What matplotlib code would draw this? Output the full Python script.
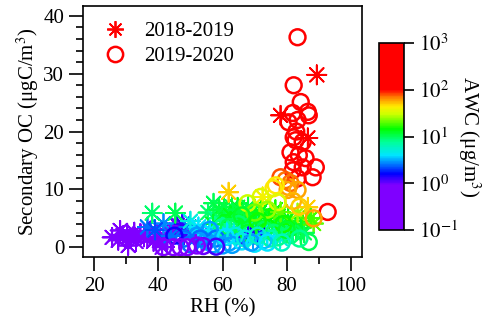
import numpy as np
import matplotlib
matplotlib.use('Agg')
import matplotlib.pyplot as plt
from matplotlib.colors import LinearSegmentedColormap, LogNorm
from matplotlib.lines import Line2D
from matplotlib.ticker import MultipleLocator, FixedLocator

plt.rcParams['font.family'] = ['Liberation Serif', 'DejaVu Serif']
plt.rcParams['mathtext.fontset'] = 'stix'
plt.rcParams['font.size'] = 15

# 2018-2019 (stars): RH (%), secondary OC (ugC/m3), AWC (ug/m3)
rh1 = [25.6, 27.5, 28.1, 29.0, 30.3, 30.6, 31.5, 32.5, 33.0, 34.4, 35.5, 36.6, 37.5, 38.5,
       39.7, 40.5, 41.2, 42.8, 43.5,
       45.9, 46.9, 44.5, 48.0, 47.5,
       36.6, 41.6, 39.0, 44.0, 49.5, 50.5,
       38.1, 45.3,
       51.6, 53.1, 53.5, 55.0,
       55.5, 57.2, 58.0, 59.0, 60.0, 61.0, 62.0, 63.0, 64.7, 65.5, 66.5, 67.5, 68.5, 70.0,
       71.0, 72.0, 73.5, 75.0, 76.0, 77.5, 79.0, 80.5, 82.0,
       57.0, 59.5, 60.5, 62.5, 63.5, 65.0, 66.0, 68.0, 69.0, 70.5, 71.5, 73.0, 74.5, 76.5,
       78.5, 80.0, 81.5, 83.0, 85.0, 50.0, 52.5, 54.0,
       56.0, 58.5, 61.5, 64.0, 67.0, 69.5, 74.0, 78.0,
       70.9, 68.0,
       61.9, 72.5, 83.4, 86.6, 88.4, 84.4, 85.5, 87.5, 78.1,
       78.1, 89.4, 86.6]
oc1 = [1.7, 1.2, 2.9, 2.0, 2.4, 0.3, 1.5, 2.6, 1.0, 2.4, 1.8, 1.7, 2.8, 1.0,
       2.4, 1.5, 0.0, 1.2, 2.5,
       3.8, 2.9, 3.2, 2.2, 4.0,
       3.5, 4.1, 3.0, 2.0, 3.5, 2.5,
       5.9, 5.9,
       1.6, 2.1, 0.7, 1.5,
       6.0, 7.6, 5.0, 6.5, 4.5, 6.0, 4.0, 7.0, 6.9, 5.0, 3.5, 6.0, 4.5, 5.5,
       3.5, 6.5, 4.5, 5.5, 3.0, 4.5, 3.5, 5.0, 2.5,
       4.0, 3.0, 7.0, 5.5, 3.0, 6.5, 4.5, 7.0, 3.0, 4.5, 6.0, 2.5, 5.0, 6.5,
       4.0, 2.5, 4.0, 3.0, 4.5, 4.5, 3.5, 2.5,
       3.0, 2.0, 2.5, 1.5, 2.0, 1.5, 2.0, 1.5,
       2.1, 1.8,
       9.5, 8.7, 5.9, 6.9, 4.1, 3.3, 2.5, 5.0, 6.1,
       22.8, 29.8, 18.9]
awc1 = [0.2, 0.3, 0.25, 0.2, 0.3, 0.2, 0.25, 0.3, 0.2, 0.3, 0.25, 0.3, 0.35, 0.3,
        0.4, 0.3, 0.3, 0.4, 0.5,
        1.1, 1.0, 0.9, 1.2, 1.3,
        2.5, 2.8, 2.2, 2.5, 2.5, 2.8,
        9, 10,
        0.4, 0.3, 0.4, 0.5,
        9, 10, 8, 11, 9, 12, 8, 10, 13, 10, 7, 12, 9, 11,
        8, 14, 10, 12, 8, 11, 9, 13, 7,
        12, 8, 11, 13, 6, 11, 12, 11, 6, 12, 13, 6, 14, 15,
        12, 9, 15, 10, 16, 5, 4, 3,
        4, 3.5, 4, 3, 3.5, 3, 4, 5,
        1.5, 1.3,
        50, 40, 25, 50, 20, 12, 10, 18, 20,
        300, 400, 250]

# 2019-2020 (circles)
rh2 = [83.4, 82.2, 84.4, 86.6, 81.9, 83.4, 80.6, 86.9, 82.8, 82.2, 83.0, 85.0, 81.2, 83.8,
       85.9, 82.2, 89.1, 85.0, 81.9, 88.1, 83.4, 92.8,
       79.7, 80.6, 78.1, 81.2, 83.4, 80.3, 88.4, 82.0, 84.0,
       76.6, 75.9, 71.9, 67.8, 77.2, 74.0, 70.0,
       86.9, 81.2, 77.2, 73.0, 65.0, 60.0, 68.0, 79.0, 75.0,
       62.0, 66.0, 71.0, 76.0, 80.0, 84.0,
       72.8, 52.0, 55.0, 58.0, 62.0, 66.0, 70.0, 48.0, 50.0, 56.0, 64.0, 60.0,
       53.0, 57.0, 61.0, 63.0, 67.0, 69.0, 71.0, 74.0, 78.5,
       54.0, 58.0, 45.0,
       46.9, 41.6, 49.0, 44.7, 52.0]
oc2 = [36.3, 28.0, 25.1, 23.4, 23.2, 22.0, 21.6, 22.8, 18.5, 19.0, 20.0, 18.2, 16.4, 15.9,
       15.4, 14.7, 13.8, 13.8, 13.3, 12.1, 11.9, 6.1,
       11.6, 10.4, 12.1, 11.1, 9.9, 9.9, 5.0, 8.0, 7.0,
       10.7, 10.2, 8.7, 7.6, 7.8, 6.5, 6.0,
       0.9, 2.1, 1.7, 3.0, 4.0, 3.5, 2.5, 4.0, 1.5,
       3.5, 5.5, 4.5, 2.5, 3.0, 1.5,
       1.2, 2.0, 1.0, 1.5, 0.8, 1.0, 0.6, 1.5, 0.5, 3.0, 2.0, 0.3,
       1.5, 0.5, 1.8, 0.4, 1.5, 0.8, 2.0, 0.8, 0.8,
       0.2, 0.1, 2.0,
       0.0, 0.0, 0.0, 0.0, 0.3]
awc2 = [500, 400, 300, 300, 250, 300, 250, 300, 200, 250, 250, 200, 180, 200,
        180, 160, 200, 170, 150, 180, 140, 200,
        70, 60, 80, 70, 60, 60, 60, 55, 50,
        45, 45, 35, 30, 35, 25, 22,
        10, 9, 8, 10, 9, 8, 12, 15, 7,
        10, 12, 15, 9, 12, 8,
        3.5, 3, 3, 2.5, 3, 4, 4, 2.5, 2.5, 3, 5, 3,
        2.5, 3, 4, 3, 5, 3, 6, 4, 6,
        1.0, 1.2, 1.5,
        0.3, 0.3, 0.4, 0.3, 0.3]

# rainbow colour scale on log10(AWC), purple below 1, red above 100
stops = [(0.00, '#7f00ff'), (0.24, '#7f00ff'), (0.30, '#0000ff'), (0.40, '#00e5ff'),
         (0.47, '#00ff99'), (0.54, '#00ff00'), (0.62, '#ccff00'), (0.66, '#ffee00'),
         (0.71, '#ff8000'), (0.75, '#ff0000'), (1.00, '#ff0000')]
cmap = LinearSegmentedColormap.from_list('awc', stops)
norm = LogNorm(vmin=0.1, vmax=1000)

fig = plt.figure(figsize=(5, 3.33), dpi=100)
ax = fig.add_axes([0.166, 0.228, 0.558, 0.754])

star = (8, 2, 0)
ax.scatter(rh1, oc1, c=awc1, cmap=cmap, norm=norm, marker=star, s=190, linewidths=1.3)
ax.scatter(rh2, oc2, c='none', marker='o', s=130, linewidths=1.8,
           edgecolors=cmap(norm(np.array(awc2))))

ax.set_xlim(16.5, 103.5)
ax.set_ylim(-1.7, 41.7)
ax.xaxis.set_major_locator(MultipleLocator(20))
ax.xaxis.set_minor_locator(MultipleLocator(10))
ax.yaxis.set_major_locator(MultipleLocator(10))
ax.yaxis.set_minor_locator(MultipleLocator(2))
ax.tick_params(which='major', direction='out', length=10, width=1.2, labelsize=15)
ax.tick_params(which='minor', direction='out', length=5, width=1.2)
ax.tick_params(axis='x', which='both', pad=4)
for sp in ax.spines.values():
    sp.set_linewidth(1.2)
ax.set_xlabel('RH (%)', fontsize=15, labelpad=2)
ax.set_ylabel('Secondary OC (μgC/m$^3$)', fontsize=15, labelpad=2)

handles = [Line2D([], [], ls='none', marker=star, color='red', ms=12, mew=1.3),
           Line2D([], [], ls='none', marker='o', mfc='none', mec='red', ms=11, mew=1.8)]
ax.legend(handles, ['2018-2019', '2019-2020'], loc='upper left', frameon=False,
          bbox_to_anchor=(0.04, 0.97), handlelength=1.2, handletextpad=0.8,
          labelspacing=0.25, borderaxespad=0, fontsize=15)

cax = fig.add_axes([0.758, 0.309, 0.05, 0.562])
mappable = plt.cm.ScalarMappable(norm=norm, cmap=cmap)
cb = fig.colorbar(mappable, cax=cax)
cb.ax.yaxis.set_major_locator(FixedLocator([0.1, 1, 10, 100, 1000]))
cb.ax.set_yticklabels(['$10^{-1}$', '$10^{0}$', '$10^{1}$', '$10^{2}$', '$10^{3}$'])
cb.ax.minorticks_off()
cb.ax.tick_params(direction='out', length=7, width=1.2, labelsize=15)
cb.outline.set_linewidth(1.2)
cb.set_label('AWC (μg/m$^3$)', rotation=270, fontsize=15, labelpad=18)

fig.savefig('out.png', dpi=100)
